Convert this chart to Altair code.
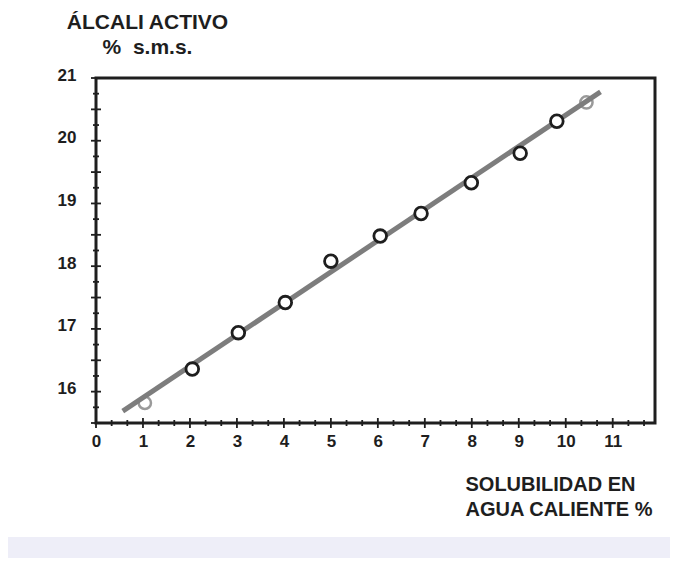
import altair as alt
import pandas as pd

# ---- data ----
solubilidad = [1.04, 2.05, 3.03, 4.03, 5.00, 6.05, 6.92, 7.99, 9.03, 9.81, 10.44]
alcali = [15.82, 16.36, 16.94, 17.42, 18.08, 18.48, 18.84, 19.33, 19.80, 20.31, 20.61]
tipo = ["gris", "negro", "negro", "negro", "negro", "negro", "negro", "negro", "negro", "negro", "gris"]

# regression line end points
recta_x = [0.57, 10.74]
recta_y = [15.69, 20.78]

# axis labels and tick positions
x_labels = [0, 1, 2, 3, 4, 5, 6, 7, 8, 9, 10, 11]
y_labels = [16, 17, 18, 19, 20, 21]
x_major = [0, 1, 2, 3, 4, 5, 6, 7, 8, 9, 10, 11]
x_minor = [v + f for v in x_major for f in (1 / 3, 2 / 3)]
y_major = [15.5, 16, 16.5, 17, 17.5, 18, 18.5, 19, 19.5, 20, 20.5, 21]
y_minor = [v + 0.25 for v in y_major[:-1]]

NB = "\u00a0"
y_title = ["ÁLCALI ACTIVO", "%" + NB * 2 + "s.m.s."]
x_title = ["SOLUBILIDAD EN", "AGUA CALIENTE %"]

puntos = pd.DataFrame({"x": solubilidad, "y": alcali, "tipo": tipo})
recta = pd.DataFrame({"x": recta_x, "y": recta_y})

FONT = "Liberation Sans"
INK = "#1e1e1e"
W, H = 559, 345

xscale = alt.Scale(domain=[0, 11.9], nice=False, zero=False)
yscale = alt.Scale(domain=[15.5, 21], nice=False, zero=False)

xaxis = alt.Axis(
    values=x_labels, format="d",
    domain=False, grid=False, ticks=False, zindex=2,
    labelFont=FONT, labelFontWeight="bold", labelFontSize=17, labelColor=INK,
    labelPadding=10, labelFlush=False, labelOverlap=False,
    title=x_title,
    titleFont=FONT, titleFontWeight="bold", titleFontSize=20, titleColor=INK,
    titleAlign="left", titleAnchor="start", titleBaseline="top",
    titleX=369, titleY=51, titleLineHeight=25,
)
yaxis = alt.Axis(
    values=y_labels, format="d",
    domain=False, grid=False, ticks=False, zindex=2,
    labelFont=FONT, labelFontWeight="bold", labelFontSize=17, labelColor=INK,
    labelPadding=20, labelOffset=-3, labelFlush=False, labelOverlap=False,
    title=y_title,
    titleFont=FONT, titleFontWeight="bold", titleFontSize=21, titleColor=INK,
    titleAngle=0, titleAlign="center", titleBaseline="alphabetic",
    titleX=51, titleY=-50, titleLineHeight=25,
)

panel = alt.Data(values=[{"a": 1}])

fondo = alt.Chart(panel).mark_rect(color="white").encode(
    x=alt.value(-88), x2=alt.value(574), y=alt.value(-70), y2=alt.value(459)
)
marco = alt.Chart(panel).mark_rect(fill=None, stroke=INK, strokeWidth=3, filled=False).encode(
    x=alt.value(0), x2=alt.value(W), y=alt.value(0), y2=alt.value(H)
)


def ticks_x(vals, length):
    return alt.Chart(pd.DataFrame({"v": vals})).mark_tick(
        orient="vertical", size=length, thickness=1.8, color=INK, opacity=1
    ).encode(x=alt.X("v:Q", scale=xscale), y=alt.value(H))


def ticks_y(vals, length):
    return alt.Chart(pd.DataFrame({"v": vals})).mark_tick(
        orient="horizontal", size=length, thickness=1.8, color=INK, opacity=1
    ).encode(y=alt.Y("v:Q", scale=yscale), x=alt.value(0))


base = alt.Chart(puntos)

grises = base.transform_filter("datum.tipo == 'gris'").mark_point(
    shape="circle", size=150, strokeWidth=2.5, color="#9a9a9a", filled=False, opacity=1
).encode(x=alt.X("x:Q", scale=xscale, axis=xaxis), y=alt.Y("y:Q", scale=yscale, axis=yaxis))

linea = alt.Chart(recta).mark_line(color="#7d7d7d", strokeWidth=5).encode(
    x=alt.X("x:Q", scale=xscale), y=alt.Y("y:Q", scale=yscale)
)

negros = base.transform_filter("datum.tipo == 'negro'").mark_point(
    shape="circle", size=160, strokeWidth=2.8, color=INK, fill="white", filled=False, opacity=1, fillOpacity=1
).encode(x=alt.X("x:Q", scale=xscale), y=alt.Y("y:Q", scale=yscale))

chart = alt.layer(
    fondo, marco,
    ticks_x(x_major, 10), ticks_x(x_minor, 6),
    ticks_y(y_major, 10), ticks_y(y_minor, 6),
    grises, linea, negros,
).properties(
    width=W, height=H,
    background="#eeeef8",
    autosize=alt.AutoSizeParams(type="none"),
    padding={"left": 88, "top": 70, "right": 15, "bottom": 135},
).configure_view(stroke=None)

chart.save("out.html", embed_options={"renderer": "svg", "actions": False})
